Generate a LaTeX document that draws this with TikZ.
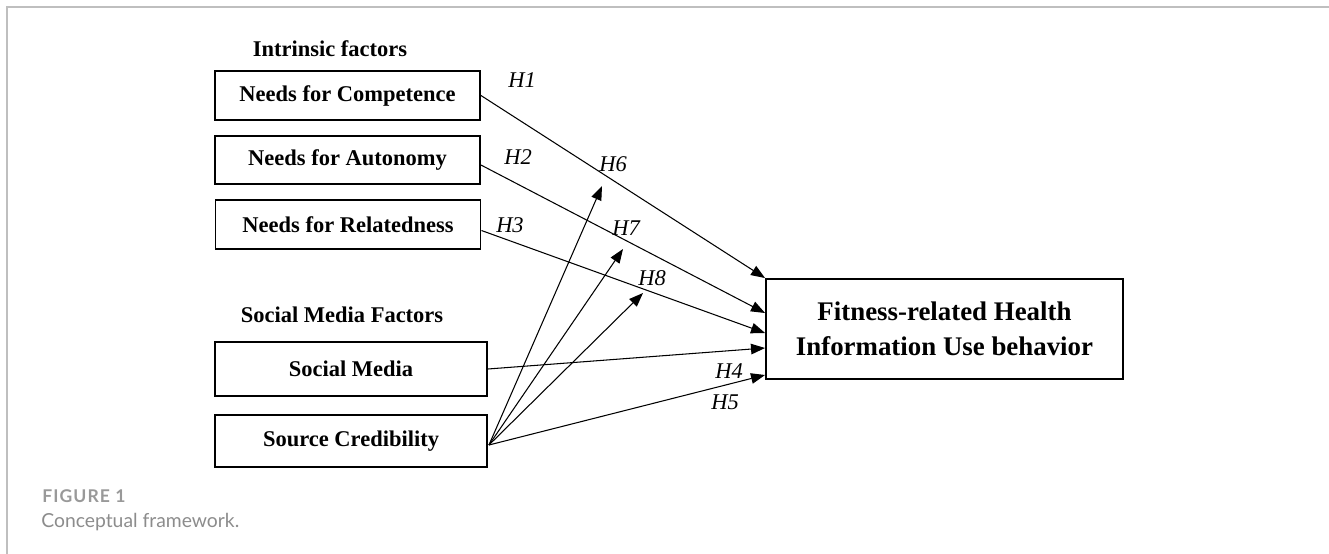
\documentclass[tikz,border=0pt]{standalone}
\usepackage{xcolor}
\usepackage{fontspec}
\setmainfont{Liberation Serif}
\newfontfamily\capfont{Lato}
\newfontfamily\figfont[LetterSpace=6]{Lato}
\usetikzlibrary{arrows.meta, calc}

\begin{document}
\begin{tikzpicture}[x=0.02cm, y=-0.02cm, >={Triangle[length=8pt, width=6pt]},
    every node/.style={font=\fontsize{12.8}{15}\selectfont},
    factor/.style={draw, line width=1.1pt, inner sep=0pt, font=\fontsize{12.8}{15}\selectfont\bfseries},
    hyp/.style={font=\fontsize{12.8}{15}\selectfont\itshape, inner sep=0pt},
    link/.style={->, line width=0.6pt}]
  \useasboundingbox (0,0) rectangle (1329,554);
  \draw[black!25, line width=1pt] (7,554) -- (7,7) -- (1329,7);

  % group headings
  \node[font=\fontsize{12.8}{15}\selectfont\bfseries] (intr) at (330,49) {Intrinsic factors};
  \node[font=\fontsize{12.8}{15}\selectfont\bfseries] (smf) at (342,315) {Social Media Factors};

  % predictors
  \node[factor, minimum width=5.3cm, minimum height=0.98cm] (comp) at (347.5,95.5) {Needs for Competence};
  \node[factor, minimum width=5.3cm, minimum height=0.96cm] (auto) at (347.5,160) {Needs for Autonomy};
  \node[factor, minimum width=5.3cm, minimum height=0.98cm] (rel) at (348,224.5) {Needs for Relatedness};
  \node[factor, minimum width=5.44cm, minimum height=1.08cm] (sm) at (351,369) {Social Media};
  \node[factor, minimum width=5.44cm, minimum height=1.04cm] (sc) at (351,441) {Source Credibility};

  % outcome
  \node[factor, minimum width=7.14cm, minimum height=2.0cm, align=center,
        font=\fontsize{15.3}{19.8}\selectfont\bfseries] (fhiub) at (944.5,329)
        {Fitness-related Health\\Information Use behavior};

  % direct paths
  \draw[link] (comp.east) -- (fhiub.north west);
  \draw[link] ($(auto.east)+(0,5)$) -- ($(fhiub.west)+(0,-16)$);
  \draw[link] ($(rel.east)+(0,6)$) -- ($(fhiub.west)+(0,4)$);
  \draw[link] (sm.east) -- ($(fhiub.west)+(0,19)$);
  \coordinate (scout) at ($(sc.east)+(1,4)$);
  \draw[link] (scout) -- ($(fhiub.west)+(0,46)$);

  % moderating paths
  \coordinate (m6) at (602,186);
  \coordinate (m7) at (623,249);
  \coordinate (m8) at (643,293);
  \draw[link] (scout) -- (m6);
  \draw[link] (scout) -- (m7);
  \draw[link] (scout) -- (m8);

  % hypothesis labels
  \node[hyp] (h1) at (522,80) {H1};
  \node[hyp] (h2) at (518,157) {H2};
  \node[hyp] (h3) at (510,225) {H3};
  \node[hyp] (h4) at (729,371) {H4};
  \node[hyp] (h5) at (725,402) {H5};
  \node[hyp] (h6) at (613,164) {H6};
  \node[hyp] (h7) at (626,228) {H7};
  \node[hyp] (h8) at (652,278) {H8};

  % caption
  \node[anchor=base west, inner sep=0pt, text=black!40, font=\figfont\bfseries\fontsize{10}{12}\selectfont] (fig) at (42,502) {FIGURE 1};
  \node[anchor=base west, inner sep=0pt, text=black!45, font=\capfont\fontsize{11}{13}\selectfont] (cap) at (41,527) {Conceptual framework.};
\end{tikzpicture}
\end{document}
